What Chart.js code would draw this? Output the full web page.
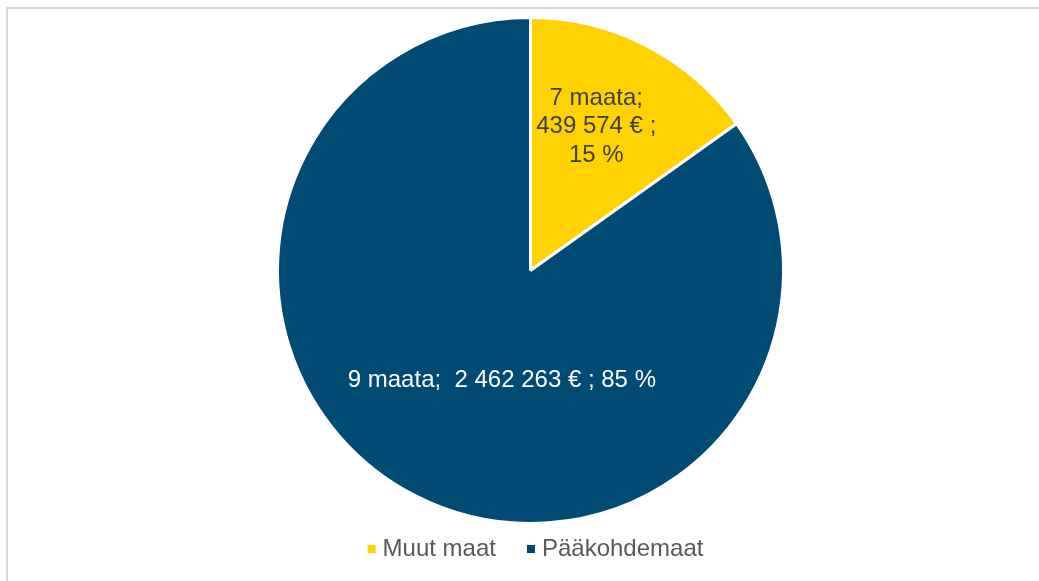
<!DOCTYPE html>
<html>
<head>
<meta charset="utf-8">
<script src="https://cdn.jsdelivr.net/npm/chart.js@4"></script>
<style>
  html, body { margin: 0; padding: 0; background: #ffffff; }
  #wrap { width: 1039px; height: 581px; position: relative; }
</style>
</head>
<body>
<div id="wrap"><canvas id="c" width="1039" height="581"></canvas></div>
<script>
const categories = ['Muut maat', 'Pääkohdemaat'];
const values = [439574, 2462263];
const countries = [7, 9];
const percents = [15, 85];
const colors = ['#FFD200', '#004B74'];
const labelColors = ['#404040', '#FFFFFF'];

function fmt(n) {
  return String(n).replace(/\B(?=(\d{3})+(?!\d))/g, ' ');
}
const labelLines = [
  [countries[0] + ' maata;', fmt(values[0]) + ' € ;', percents[0] + ' %'],
  [countries[1] + ' maata;  ' + fmt(values[1]) + ' € ; ' + percents[1] + ' %']
];
const labelPlace = [
  { frac: 0.625, dAng: -2.7 },
  { frac: 0.447, dAng: -12.6 }
];
const FONT = '"Liberation Sans", Arial, sans-serif';

const sliceLabels = {
  id: 'sliceLabels',
  afterDatasetsDraw(chart) {
    const ctx = chart.ctx;
    const meta = chart.getDatasetMeta(0);
    ctx.save();
    ctx.font = '24px ' + FONT;
    ctx.textAlign = 'center';
    ctx.textBaseline = 'middle';
    meta.data.forEach((arc, i) => {
      const p = arc.getProps(['x', 'y', 'startAngle', 'endAngle', 'outerRadius'], true);
      const a = (p.startAngle + p.endAngle) / 2 + labelPlace[i].dAng * Math.PI / 180;
      const r = p.outerRadius * labelPlace[i].frac;
      const cx = p.x + Math.cos(a) * r;
      const cy = p.y + Math.sin(a) * r;
      const lines = labelLines[i];
      const lh = 28.5;
      ctx.fillStyle = labelColors[i];
      lines.forEach((t, k) => {
        ctx.fillText(t, cx, cy + (k - (lines.length - 1) / 2) * lh);
      });
    });
    ctx.restore();
  }
};

const bottomLegend = {
  id: 'bottomLegend',
  afterDraw(chart) {
    const ctx = chart.ctx;
    const meta = chart.getDatasetMeta(0);
    ctx.save();
    ctx.font = '24px ' + FONT;
    ctx.textBaseline = 'middle';
    ctx.textAlign = 'left';
    const box = 8, boxGap = 7, itemGap = 31;
    const widths = categories.map(t => ctx.measureText(t).width);
    let total = 0;
    widths.forEach((w, i) => { total += box + boxGap + w + (i ? itemGap : 0); });
    const cxMid = (meta.data[0].x) + 5;
    let x = cxMid - total / 2;
    const y = chart.chartArea.bottom + 24;
    categories.forEach((t, i) => {
      ctx.fillStyle = colors[i];
      ctx.fillRect(x, y - box / 2, box, box);
      x += box + boxGap;
      ctx.fillStyle = '#595959';
      ctx.fillText(t, x, y);
      x += widths[i] + itemGap;
    });
    ctx.restore();
  }
};

const frame = {
  id: 'frame',
  beforeDraw(chart) {
    const ctx = chart.ctx;
    ctx.save();
    ctx.strokeStyle = '#D9D9D9';
    ctx.lineWidth = 2;
    ctx.beginPath();
    ctx.moveTo(7, 600);
    ctx.lineTo(7, 8);
    ctx.lineTo(1100, 8);
    ctx.stroke();
    ctx.restore();
  }
};

new Chart(document.getElementById('c'), {
  type: 'pie',
  data: {
    labels: categories,
    datasets: [{
      data: values,
      backgroundColor: colors,
      borderColor: '#FFFFFF',
      borderWidth: 3
    }]
  },
  options: {
    responsive: false,
    animation: false,
    layout: { padding: { top: 16, left: 22, right: 0, bottom: 56 } },
    plugins: {
      tooltip: { enabled: false },
      legend: { display: false }
    }
  },
  plugins: [frame, sliceLabels, bottomLegend]
});
</script>
</body>
</html>
